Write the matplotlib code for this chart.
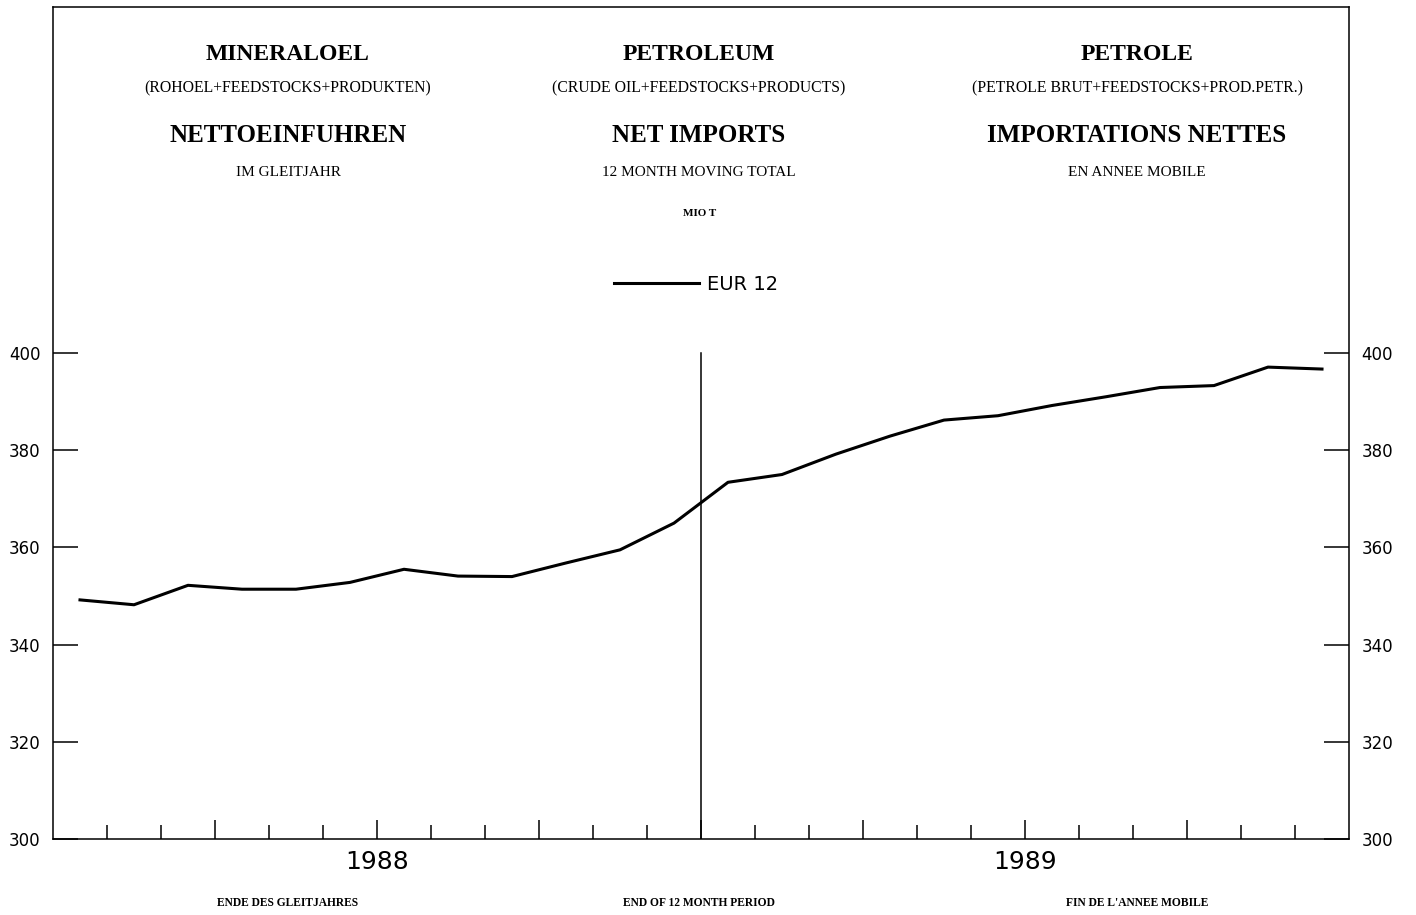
import numpy as np
import matplotlib
matplotlib.use("Agg")
import matplotlib.pyplot as plt
from matplotlib.transforms import blended_transform_factory

# monthly 12-month moving total, Mio t, EUR 12 (1988-1989)
months = np.arange(24)
eur12 = [349.2, 348.2, 352.2, 351.4, 351.4, 352.8, 355.5, 354.1, 354.0, 356.8, 359.5, 365.0,
         373.4, 375.0, 379.2, 382.9, 386.2, 387.1, 389.2, 391.0, 392.9, 393.3, 397.1, 396.7]
years = ["1988", "1989"]
yticks = [300, 320, 340, 360, 380, 400]

titles_de = ["MINERALOEL", "(ROHOEL+FEEDSTOCKS+PRODUKTEN)", "NETTOEINFUHREN", "IM GLEITJAHR",
             "ENDE DES GLEITJAHRES"]
titles_en = ["PETROLEUM", "(CRUDE OIL+FEEDSTOCKS+PRODUCTS)", "NET IMPORTS", "12 MONTH MOVING TOTAL",
             "END OF 12 MONTH PERIOD"]
titles_fr = ["PETROLE", "(PETROLE BRUT+FEEDSTOCKS+PROD.PETR.)", "IMPORTATIONS NETTES", "EN ANNEE MOBILE",
             "FIN DE L'ANNEE MOBILE"]
unit = "MIO T"
series_name = "EUR 12"

W, H = 1416, 915
serif = ["Liberation Serif", "DejaVu Serif"]
sans = ["DejaVu Sans"]

fig = plt.figure(figsize=(W / 100, H / 100), dpi=100)
ax = fig.add_axes([53 / W, 1 - 839 / H, (1349 - 53) / W, (839 - 7) / H])

ax.plot(months + 0.5, eur12, color="black", lw=2.2, label=series_name)
ax.plot([12, 12], [300, 400], color="black", lw=1.1)

ax.set_xlim(0, 24)
ax.set_ylim(300, 471.2)
ax.set_yticks(yticks)
ax.set_xticks(np.arange(3, 24, 3))
ax.set_xticks([m for m in range(1, 24) if m % 3], minor=True)
ax.tick_params(axis="y", direction="in", length=18, width=1.1, left=True, right=True,
               labelleft=True, labelright=True, pad=9, labelsize=12)
ax.tick_params(axis="x", which="major", direction="in", length=14, width=1.1, labelbottom=False)
ax.tick_params(axis="x", which="minor", direction="in", length=10, width=1.1)
for s in ax.spines.values():
    s.set_linewidth(1.1)

trans = blended_transform_factory(ax.transData, ax.transAxes)
for i, yr in enumerate(years):
    ax.text(6 + 12 * i, -0.028, yr, transform=trans, ha="center", va="center",
            fontsize=18, family=sans)

# three-language header
cols = [(288, titles_de), (699, titles_en), (1137, titles_fr)]
for x, t in cols:
    fig.text(x / W, 1 - 55 / H, t[0], ha="center", va="center", fontsize=17,
             fontweight="bold", family=serif)
    fig.text(x / W, 1 - 88 / H, t[1], ha="center", va="center", fontsize=11.3, family=serif)
    fig.text(x / W, 1 - 136 / H, t[2], ha="center", va="center", fontsize=18,
             fontweight="bold", family=serif)
    fig.text(x / W, 1 - 173 / H, t[3], ha="center", va="center", fontsize=11, family=serif)
    fig.text(x / W, 1 - 903 / H, t[4], ha="center", va="center", fontsize=8.3,
             fontweight="bold", family=serif)
fig.text(700 / W, 1 - 214 / H, unit, ha="center", va="center", fontsize=8,
         fontweight="bold", family=serif)

leg = ax.legend(loc="center", bbox_to_anchor=(696 / W, 1 - 284 / H), bbox_transform=fig.transFigure,
                frameon=False, handlelength=4.4, handletextpad=0.4, prop={"family": sans, "size": 14})

fig.savefig("out.png", dpi=100, facecolor="white")
